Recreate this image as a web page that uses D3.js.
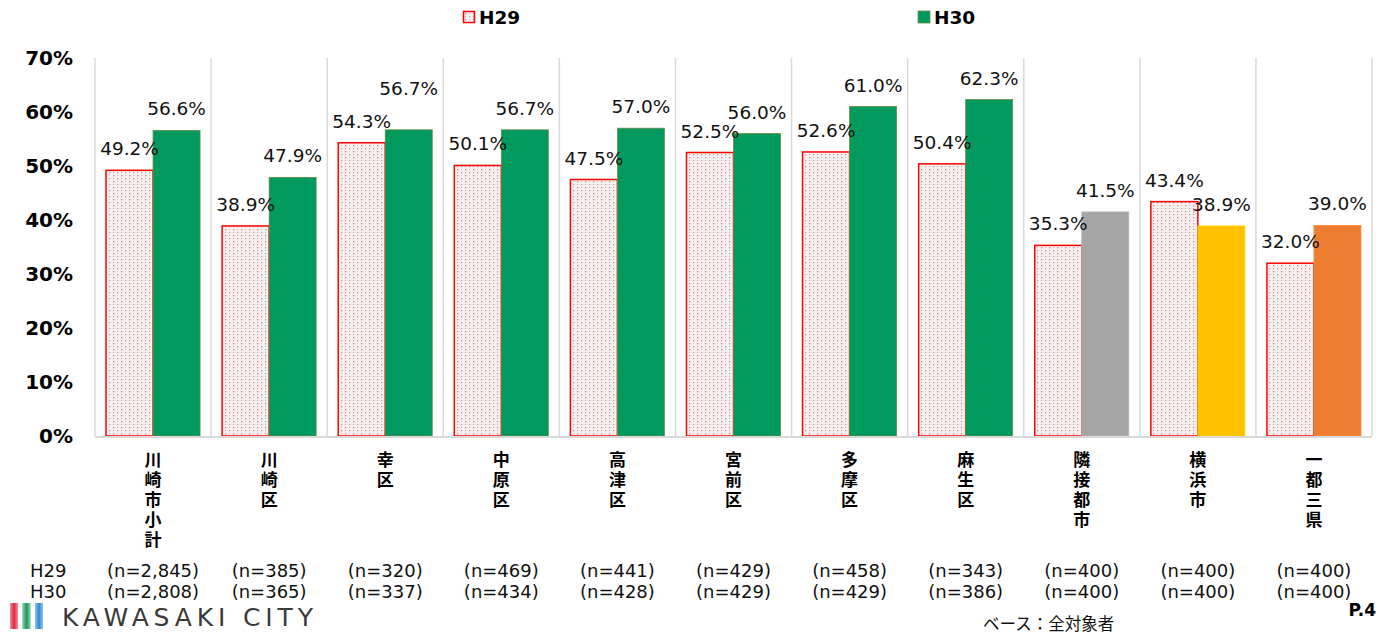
<!DOCTYPE html>
<html><head><meta charset="utf-8">
<script src="https://cdn.jsdelivr.net/npm/d3@7/dist/d3.min.js"></script>
<style>
html,body{margin:0;padding:0;background:#fff;}
svg{display:block;}
</style></head>
<body>
<svg id="chart" width="1390" height="634"></svg>
<script>
const categories = ["川崎市小計","川崎区","幸区","中原区","高津区","宮前区","多摩区","麻生区","隣接都市","横浜市","一都三県"];
const seriesNames = ["H29","H30"];
const h29 = [49.2,38.9,54.3,50.1,47.5,52.5,52.6,50.4,35.3,43.4,32.0];
const h30 = [56.6,47.9,56.7,56.7,57.0,56.0,61.0,62.3,41.5,38.9,39.0];
const nH29 = ["(n=2,845)","(n=385)","(n=320)","(n=469)","(n=441)","(n=429)","(n=458)","(n=343)","(n=400)","(n=400)","(n=400)"];
const nH30 = ["(n=2,808)","(n=365)","(n=337)","(n=434)","(n=428)","(n=429)","(n=429)","(n=386)","(n=400)","(n=400)","(n=400)"];
const yTicks = [0,10,20,30,40,50,60,70];
const h30Colors = ["#009A5E","#009A5E","#009A5E","#009A5E","#009A5E","#009A5E","#009A5E","#009A5E","#A5A5A5","#FFC000","#ED7D31"];

const svg = d3.select("#chart");
const FONT = "'DejaVu Sans', Verdana, sans-serif";
const CJK = "'Noto Sans CJK JP', sans-serif";

// pattern for H29
const defs = svg.append("defs");
const pat = defs.append("pattern").attr("id","dots").attr("patternUnits","userSpaceOnUse")
  .attr("width",8).attr("height",6);
pat.append("rect").attr("width",8).attr("height",6).attr("fill","#f5f1f1");
pat.append("rect").attr("x",1).attr("y",1).attr("width",1.3).attr("height",1.3).attr("fill","#e07f8c");
pat.append("rect").attr("x",5).attr("y",4).attr("width",1.3).attr("height",1.3).attr("fill","#d493a0");
pat.append("rect").attr("x",5).attr("y",1).attr("width",1).attr("height",1).attr("fill","#ecb4bd");
pat.append("rect").attr("x",1).attr("y",4).attr("width",1).attr("height",1).attr("fill","#c99ba4");

const x = d3.scaleBand().domain(categories).range([95,1372]).padding(0);
const bw = x.bandwidth();
const x1 = d3.scaleBand().domain(seriesNames).range([bw*0.095, bw*0.905]).padding(0);
const y = d3.scaleLinear().domain([0,70]).range([436,58]);

// vertical separators
const seps = categories.map(c => x(c)).concat([x.range()[1]]);
svg.append("g").selectAll("line").data(seps).join("line")
  .attr("x1",d=>d).attr("x2",d=>d).attr("y1",y(70)).attr("y2",y(0))
  .attr("stroke","#d9d9d9").attr("stroke-width",1.5);

// y axis labels
const yAxis = d3.axisLeft(y).tickValues(yTicks).tickFormat(d=>d+"%").tickSize(0).tickPadding(0);
const yg = svg.append("g").attr("transform","translate(73,0)").call(yAxis);
yg.select(".domain").remove();
yg.selectAll("text").attr("font-family",FONT).attr("font-weight","bold").attr("font-size",20).attr("fill","#000");

// bars
const g = svg.append("g");
g.selectAll("rect.h29").data(h29).join("rect").attr("class","h29")
  .attr("x",(d,i)=>x(categories[i])+x1("H29")).attr("width",x1.bandwidth())
  .attr("y",d=>y(d)).attr("height",d=>y(0)-y(d))
  .attr("fill","url(#dots)").attr("stroke","#ff0000").attr("stroke-width",1.5);
g.selectAll("rect.h30").data(h30).join("rect").attr("class","h30")
  .attr("x",(d,i)=>x(categories[i])+x1("H30")).attr("width",x1.bandwidth())
  .attr("y",d=>y(d)).attr("height",d=>y(0)-y(d))
  .attr("fill",(d,i)=>h30Colors[i]).attr("stroke",(d,i)=>i<8?"#6f8a45":d3.color(h30Colors[i]).brighter(0.3)).attr("stroke-width",0.8);

// x axis line
svg.append("line").attr("x1",x.range()[0]).attr("x2",x.range()[1]).attr("y1",y(0)+1).attr("y2",y(0)+1)
  .attr("stroke","#d9d9d9").attr("stroke-width",2);

// value labels
const labelExtra = [0,0,0,0,0,0,0,0,0,0,0];
const labelExtra30 = [0,0,20,0,0,0,0,0,0,0,0];
g.selectAll("text.l29").data(h29).join("text").attr("class","l29")
  .attr("x",(d,i)=>x(categories[i])+x1("H29")+x1.bandwidth()/2)
  .attr("y",(d,i)=>y(d)-15-labelExtra[i])
  .attr("text-anchor","middle").attr("font-family",FONT).attr("font-size",18.5).attr("fill","#111")
  .text(d=>d.toFixed(1)+"%");
g.selectAll("text.l30").data(h30).join("text").attr("class","l30")
  .attr("x",(d,i)=>x(categories[i])+x1("H30")+x1.bandwidth()/2)
  .attr("y",(d,i)=>y(d)-15-labelExtra30[i])
  .attr("text-anchor","middle").attr("font-family",FONT).attr("font-size",18.5).attr("fill","#111")
  .text(d=>d.toFixed(1)+"%");

// category labels (vertical writing mode)
svg.append("g").selectAll("text.cat").data(categories).join("text").attr("class","cat")
  .attr("x",d=>x(d)+bw/2).attr("y",451)
  .attr("writing-mode","vertical-rl").style("text-orientation","upright")
  .attr("letter-spacing",3)
  .attr("font-family",CJK).attr("font-weight","bold").attr("font-size",17).attr("fill","#000")
  .text(d=>d);

// n rows
const rowG = svg.append("g").attr("font-family",FONT).attr("font-size",18).attr("fill","#111");
rowG.append("text").attr("x",30).attr("y",577).text(seriesNames[0]);
rowG.append("text").attr("x",30).attr("y",598).text(seriesNames[1]);
rowG.selectAll("text.n29").data(nH29).join("text").attr("class","n29")
  .attr("x",(d,i)=>x(categories[i])+bw/2).attr("y",577).attr("text-anchor","middle").text(d=>d);
rowG.selectAll("text.n30").data(nH30).join("text").attr("class","n30")
  .attr("x",(d,i)=>x(categories[i])+bw/2).attr("y",598).attr("text-anchor","middle").text(d=>d);

// legend
const leg = svg.append("g");
leg.append("rect").attr("x",463.5).attr("y",11.5).attr("width",11).attr("height",11)
  .attr("fill","url(#dots)").attr("stroke","#ff0000").attr("stroke-width",1.5);
leg.append("text").attr("x",479).attr("y",24).attr("font-family",FONT).attr("font-weight","bold")
  .attr("font-size",18.5).attr("fill","#000").text(seriesNames[0]);
leg.append("rect").attr("x",918).attr("y",11).attr("width",12).attr("height",12)
  .attr("fill","#009A5E").attr("stroke","#6f8a45").attr("stroke-width",0.8);
leg.append("text").attr("x",934).attr("y",24).attr("font-family",FONT).attr("font-weight","bold")
  .attr("font-size",18.5).attr("fill","#000").text(seriesNames[1]);

// footer
svg.append("text").attr("x",1376).attr("y",616).attr("text-anchor","end").attr("font-family",FONT)
  .attr("font-weight","bold").attr("font-size",17).attr("fill","#000").text("P.4");
svg.append("text").attr("x",983).attr("y",630).attr("font-family",CJK)
  .attr("font-size",16.5).attr("fill","#111").text("ベース：全対象者");

// logo
const lg = defs.append("linearGradient").attr("id","fade").attr("x1","0").attr("x2","1");
lg.append("stop").attr("offset","0").attr("stop-color","#fff").attr("stop-opacity",0.5);
lg.append("stop").attr("offset","0.5").attr("stop-color","#fff").attr("stop-opacity",0);
lg.append("stop").attr("offset","1").attr("stop-color","#fff").attr("stop-opacity",0.5);
const logoCols = ["#e2283c","#1d9a5c","#2d8ad6"];
logoCols.forEach((c,i)=>{
  svg.append("rect").attr("x",10+i*12.5).attr("y",603).attr("width",8).attr("height",26).attr("fill",c);
  svg.append("rect").attr("x",10+i*12.5).attr("y",603).attr("width",8).attr("height",26).attr("fill","url(#fade)");
});
svg.append("text").attr("x",62).attr("y",626).attr("font-family","'DejaVu Sans', sans-serif")
  .attr("font-size",25).attr("fill","#3a3a3a").attr("textLength",251).attr("lengthAdjust","spacing")
  .text("KAWASAKI CITY");
</script>
</body></html>
